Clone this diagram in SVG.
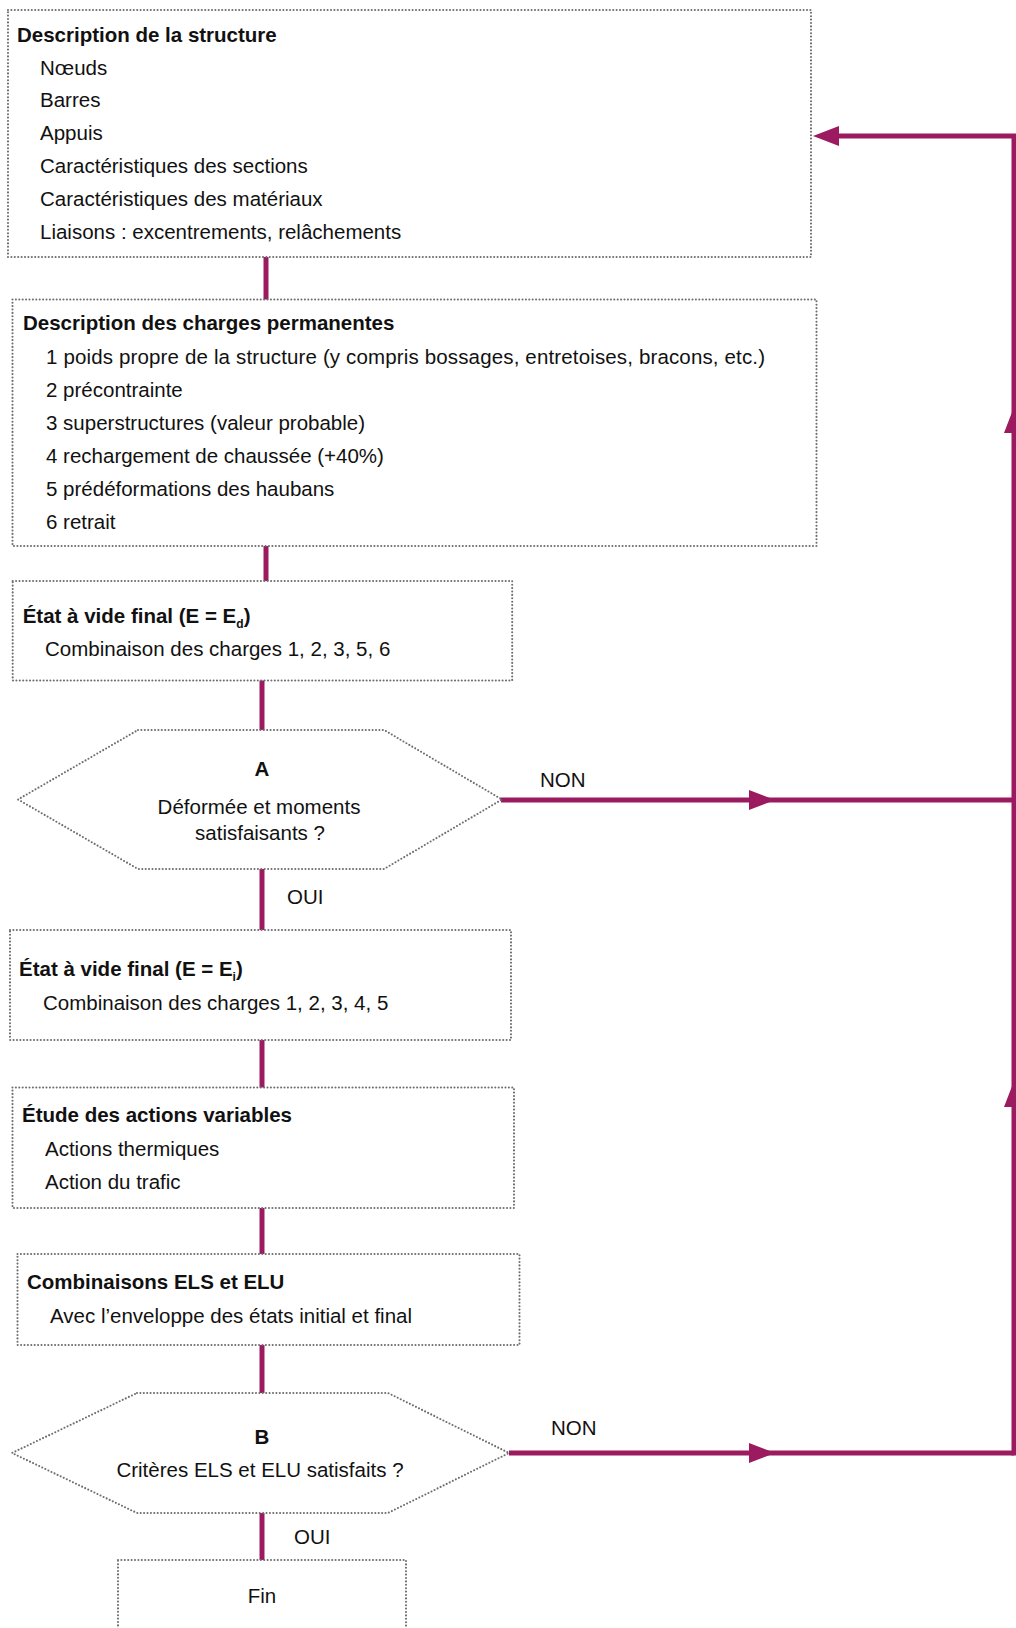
<svg xmlns="http://www.w3.org/2000/svg" width="1016" height="1628" viewBox="0 0 1016 1628">
  <style>
    .box { fill: none; stroke: #6e6e6e; stroke-width: 2.1; stroke-dasharray: 0 3.4; stroke-linecap: round; }
    .link { fill: none; stroke: #9c1a5f; stroke-width: 5; stroke-linejoin: miter; }
    text { font-family: "Liberation Sans", Arial, sans-serif; font-size: 20.5px; fill: #111; }
    .title { font-weight: bold; }
    .mid { text-anchor: middle; }
    .sub { font-size: 12px; }
  </style>
  <defs>
    <marker id="arrow" markerUnits="userSpaceOnUse" markerWidth="26" markerHeight="20" refX="16" refY="10" orient="auto">
      <path d="M0,0 L26,10 L0,20 Z" fill="#9c1a5f"/>
    </marker>
  </defs>

  <!-- connectors -->
  <g id="connectors">
    <line class="link" x1="266" y1="257" x2="266" y2="299.5"/>
    <line class="link" x1="266" y1="546" x2="266" y2="581"/>
    <line class="link" x1="262" y1="680.5" x2="262" y2="730"/>
    <line class="link" x1="262" y1="869" x2="262" y2="930"/>
    <line class="link" x1="262" y1="1040" x2="262" y2="1087.5"/>
    <line class="link" x1="262" y1="1208" x2="262" y2="1254"/>
    <line class="link" x1="262" y1="1345" x2="262" y2="1393"/>
    <line class="link" x1="262" y1="1513" x2="262" y2="1560"/>
    <!-- NON branch from A -->
    <path class="link" d="M501,800 H765" marker-end="url(#arrow)"/>
    <path class="link" d="M765,800 H1014"/>
    <!-- NON branch from B -->
    <path class="link" d="M509,1453 H765" marker-end="url(#arrow)"/>
    <path class="link" d="M765,1453 H1014"/>
    <!-- return line back to the structure description -->
    <path class="link" d="M1014,1455.5 V1091" marker-end="url(#arrow)"/>
    <path class="link" d="M1014,1091 V417" marker-end="url(#arrow)"/>
    <path class="link" d="M1014,417 V136 H823" marker-end="url(#arrow)"/>
    <text x="540" y="787">NON</text>
    <text x="551" y="1435">NON</text>
    <text x="287" y="904">OUI</text>
    <text x="294" y="1544">OUI</text>
  </g>

  <g id="structure">
    <rect class="box" x="8" y="10" width="803" height="247"/>
    <text class="title" x="17" y="42">Description de la structure</text>
    <text x="40" y="75">Nœuds</text>
    <text x="40" y="107">Barres</text>
    <text x="40" y="140">Appuis</text>
    <text x="40" y="173">Caractéristiques des sections</text>
    <text x="40" y="206">Caractéristiques des matériaux</text>
    <text x="40" y="239">Liaisons : excentrements, relâchements</text>
  </g>

  <g id="permanent-loads">
    <rect class="box" x="12.5" y="299.5" width="804" height="246.5"/>
    <text class="title" x="23" y="330">Description des charges permanentes</text>
    <text x="46" y="364" textLength="719" lengthAdjust="spacing">1 poids propre de la structure (y compris bossages, entretoises, bracons, etc.)</text>
    <text x="46" y="397">2 précontrainte</text>
    <text x="46" y="430">3 superstructures (valeur probable)</text>
    <text x="46" y="463">4 rechargement de chaussée (+40%)</text>
    <text x="46" y="496">5 prédéformations des haubans</text>
    <text x="46" y="529">6 retrait</text>
  </g>

  <g id="state-ed">
    <rect class="box" x="12.7" y="581" width="499.5" height="99.5"/>
    <text class="title" x="22.7" y="623">État à vide final (E = E<tspan class="sub" dy="5">d</tspan><tspan dy="-5">)</tspan></text>
    <text x="45" y="656">Combinaison des charges 1, 2, 3, 5, 6</text>
  </g>

  <g id="check-a">
    <polygon class="box" points="138,730 384,730 502,799.5 384,869 138,869 18,799.5"/>
    <text class="title mid" x="262" y="776">A</text>
    <text class="mid" x="259" y="814">Déformée et moments</text>
    <text class="mid" x="260" y="840">satisfaisants ?</text>
  </g>

  <g id="state-ei">
    <rect class="box" x="10" y="930" width="501" height="110"/>
    <text class="title" x="19" y="976">État à vide final (E = E<tspan class="sub" dy="5">i</tspan><tspan dy="-5">)</tspan></text>
    <text x="43" y="1010">Combinaison des charges 1, 2, 3, 4, 5</text>
  </g>

  <g id="variable-actions">
    <rect class="box" x="12.5" y="1087.5" width="501.5" height="120.5"/>
    <text class="title" x="22" y="1122">Étude des actions variables</text>
    <text x="45" y="1156">Actions thermiques</text>
    <text x="45" y="1189">Action du trafic</text>
  </g>

  <g id="combinations">
    <rect class="box" x="17.5" y="1254" width="502" height="91"/>
    <text class="title" x="27" y="1289">Combinaisons ELS et ELU</text>
    <text x="50" y="1323">Avec l’enveloppe des états initial et final</text>
  </g>

  <g id="check-b">
    <polygon class="box" points="137,1393 388,1393 509,1453 388,1513 137,1513 12,1453"/>
    <text class="title mid" x="262" y="1444">B</text>
    <text class="mid" x="260" y="1477">Critères ELS et ELU satisfaits ?</text>
  </g>

  <g id="end">
    <rect class="box" x="118" y="1560" width="288" height="100"/>
    <text class="mid" x="262" y="1603">Fin</text>
  </g>
</svg>
